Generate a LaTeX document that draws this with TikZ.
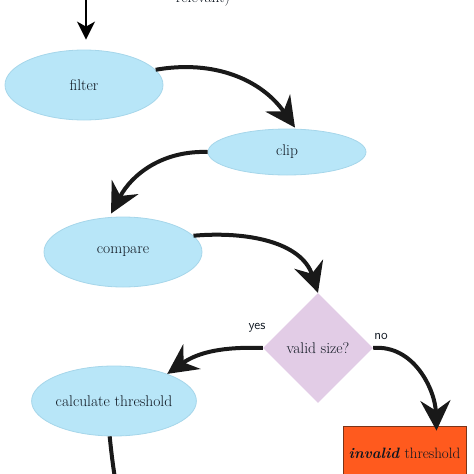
\documentclass[tikz,border=0pt]{standalone}
\usepackage{fontspec}
\usetikzlibrary{shapes.geometric,arrows.meta}
\definecolor{ellfill}{HTML}{B8E6F8}
\definecolor{elldraw}{HTML}{A6D6EA}
\definecolor{diafill}{HTML}{E2CCE6}
\definecolor{rectfill}{HTML}{FF5A1E}
\definecolor{rectdraw}{HTML}{7A3418}
\definecolor{txt}{HTML}{0E1620}
\begin{document}
\begin{tikzpicture}[x=1pt,y=-1pt,
  stepell/.style={ellipse,fill=ellfill,draw=elldraw,line width=0.8pt,inner sep=0pt,
     minimum width=158pt,minimum height=70pt,text=txt,font=\fontsize{15.5}{18}\selectfont},
  decide/.style={diamond,fill=diafill,inner sep=0pt,minimum width=110pt,minimum height=110pt,
     text=txt,font=\fontsize{15.5}{18}\selectfont},
  badbox/.style={rectangle,fill=rectfill,draw=rectdraw,line width=0.8pt,inner sep=0pt,
     minimum width=123pt,minimum height=54pt,text=txt,font=\fontsize{15}{18}\selectfont},
  flow/.style={line width=4pt,color=black!90,-{Stealth[length=30pt,width=30pt,inset=10pt]}},
  lbl/.style={font=\sffamily\fontsize{13.5}{15}\selectfont,text=txt}]
\useasboundingbox (0,0) rectangle (474,474);
\node[stepell] (filter) at (84,85) {filter};
\node[stepell,minimum height=46pt] (clip) at (287,152) {clip};
\node[stepell] (compare) at (123,252) {compare};
\node[decide] (valid) at (318,348) {valid size?};
\node[stepell,minimum width=157pt] (calc) at (114,401) {calculate threshold};
\node[badbox] (bad) at (404.5,453) {\textbf{\textit{invalid}} threshold};
\node[font=\fontsize{15.5}{18}\selectfont,text=txt,anchor=base] (rel) at (203,2) {relevant)};
\coordinate (topin) at (86,-10);
\coordinate (botout) at (117,490);
\draw[line width=2pt,-{Stealth[length=18pt,width=18pt,inset=5pt]},shorten >=10pt] (topin) -- (filter.north -| topin);
\draw[flow] (filter.12) to[out=10,in=125] ([xshift=8pt,yshift=1pt]clip.north);
\draw[flow] (clip.west) to[out=178,in=62] ([xshift=-12pt,yshift=3pt]compare.north);
\draw[flow] (compare.13) to[out=5,in=108] (valid.north);
\draw[flow] (valid.west) to[out=178,in=35] (calc.27);
\draw[flow] (valid.east) to[out=5,in=92] ([xshift=32pt,yshift=-5pt]bad.north);
\draw[line width=4pt,color=black!90] (calc.263) to[out=-84,in=100] (botout);
\node[lbl] (yes) at (257,328) {yes};
\node[lbl] (no) at (381,336) {no};
\end{tikzpicture}
\end{document}
